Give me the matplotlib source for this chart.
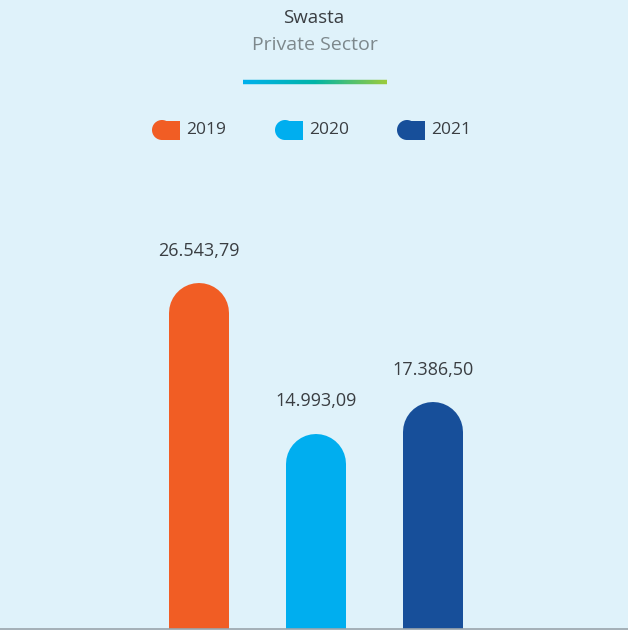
import matplotlib.pyplot as plt
import matplotlib.transforms as mtransforms
from matplotlib.patches import Circle, Rectangle
from matplotlib.collections import LineCollection
import numpy as np

# data
years = ['2019', '2020', '2021']
values = [26543.79, 14993.09, 17386.50]
labels = ['26.543,79', '14.993,09', '17.386,50']
colors = ['#f15d24', '#00aeef', '#174f9a']
title = 'Swasta'
subtitle = 'Private Sector'

bg = '#dff2fa'
W, H = 628, 630
dpi = 100
plt.rcParams['font.family'] = ['Open Sans', 'DejaVu Sans']
txt = '#3a3e42'

fig = plt.figure(figsize=(W / dpi, H / dpi), dpi=dpi, facecolor=bg)

# overlay in pixel coords for title / legend
ov = fig.add_axes([0, 0, 1, 1])
ov.set_xlim(0, W)
ov.set_ylim(H, 0)
ov.axis('off')
ov.patch.set_alpha(0)

ov.text(314, 18, title, ha='center', va='center', fontsize=13.5, color=txt)
ov.text(315, 45, subtitle, ha='center', va='center', fontsize=14, color='#7d888c')

# gradient underline
xs = np.linspace(243, 387, 150)
grad = plt.matplotlib.colors.LinearSegmentedColormap.from_list(
    'g', ['#00b0ec', '#00b4a6', '#9acb3c'])
segs = [[(xs[i], 82), (xs[i + 1], 82)] for i in range(len(xs) - 1)]
lc = LineCollection(segs, colors=grad(np.linspace(0, 1, len(segs))), linewidths=3.2)
ov.add_collection(lc)

# legend
leg_x = [152, 275, 397]
for x0, c, y in zip(leg_x, colors, years):
    ov.add_patch(Circle((x0 + 10, 130), 10, color=c, lw=0))
    ov.add_patch(Rectangle((x0 + 10, 120.5), 18, 19, color=c, lw=0))
    ov.text(x0 + 34, 130, y, ha='left', va='center', fontsize=12.5, color=txt)

# bars
ax = fig.add_axes([0, 1.5 / H, 1, 479 / H])
ax.set_facecolor('none')
pos = np.arange(len(values))
ax.set_xlim(-1.70, 3.667)
ax.set_ylim(0, 36850)
bar_px = 60
lw_pt = bar_px * 72 / dpi
shift = mtransforms.offset_copy(ax.transData, fig=fig, y=-lw_pt / 2, units='points')
for p, v, c, lab in zip(pos, values, colors, labels):
    ax.plot([p, p], [-20000, v], color=c, lw=lw_pt, solid_capstyle='round',
            transform=shift, clip_on=True)
    ax.annotate(lab, (p, v), xytext=(0, 17), textcoords='offset points',
                ha='center', va='bottom', fontsize=13, color=txt)

for s in ['top', 'right', 'left']:
    ax.spines[s].set_visible(False)
ax.spines['bottom'].set_color('#9aa4ab')
ax.spines['bottom'].set_linewidth(1.2)
ax.spines['bottom'].set_zorder(5)
ax.set_xticks([])
ax.set_yticks([])

fig.savefig('out.png', dpi=dpi, facecolor=bg)
